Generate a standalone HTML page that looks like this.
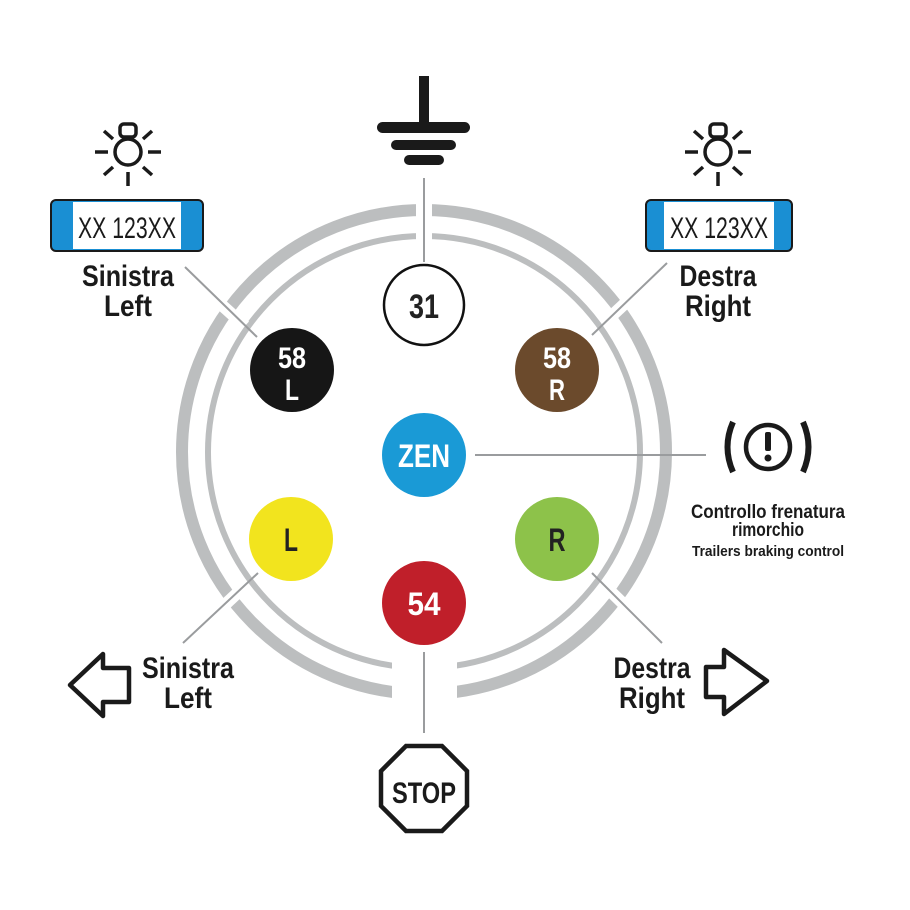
<!DOCTYPE html>
<html><head><meta charset="utf-8"><style>
html,body{margin:0;padding:0;background:#fff;}
svg{display:block;}
text{font-family:"Liberation Sans Narrow","Liberation Sans",sans-serif;font-weight:bold;}
</style></head><body>
<svg width="910" height="910" viewBox="0 0 910 910" xmlns="http://www.w3.org/2000/svg">
<circle cx="424" cy="452" r="242" fill="none" stroke="#bcbebf" stroke-width="12"/>
<circle cx="424" cy="452" r="216" fill="none" stroke="#bcbebf" stroke-width="6"/>
<g stroke="#fff" fill="none">
<line x1="424" y1="190" x2="424" y2="245" stroke-width="16"/>
<rect x="392" y="650" width="65" height="60" fill="#fff" stroke="none"/>
<line x1="205" y1="290" x2="245" y2="326" stroke-width="12"/>
<line x1="603" y1="324" x2="650" y2="280" stroke-width="12"/>
<line x1="246" y1="585" x2="200" y2="628" stroke-width="12"/>
<line x1="603" y1="584" x2="648" y2="628" stroke-width="12"/>
</g>
<g stroke="#9a9c9e" stroke-width="2">
<line x1="424" y1="178" x2="424" y2="262"/>
<line x1="185" y1="267" x2="257" y2="337"/>
<line x1="592" y1="335" x2="667" y2="263"/>
<line x1="475" y1="455" x2="706" y2="455"/>
<line x1="258" y1="573" x2="183" y2="643"/>
<line x1="592" y1="573" x2="662" y2="643"/>
<line x1="424" y1="652" x2="424" y2="733"/>
</g>
<circle cx="424" cy="305" r="40" fill="#fff" stroke="#111" stroke-width="2.5"/>
<text x="424" y="318" font-size="34" text-anchor="middle" fill="#222" textLength="30" lengthAdjust="spacingAndGlyphs">31</text>
<circle cx="292" cy="370" r="42" fill="#161616"/>
<text x="292" y="368" font-size="30" text-anchor="middle" fill="#fff" textLength="28" lengthAdjust="spacingAndGlyphs">58</text>
<text x="292" y="400" font-size="30" text-anchor="middle" fill="#fff" textLength="14" lengthAdjust="spacingAndGlyphs">L</text>
<circle cx="557" cy="370" r="42" fill="#6b4a2c"/>
<text x="557" y="368" font-size="30" text-anchor="middle" fill="#fff" textLength="28" lengthAdjust="spacingAndGlyphs">58</text>
<text x="557" y="400" font-size="30" text-anchor="middle" fill="#fff" textLength="16" lengthAdjust="spacingAndGlyphs">R</text>
<circle cx="424" cy="455" r="42" fill="#1a9ad6"/>
<text x="424" y="467" font-size="32" text-anchor="middle" fill="#fff" textLength="52" lengthAdjust="spacingAndGlyphs">ZEN</text>
<circle cx="291" cy="539" r="42" fill="#f2e41e"/>
<text x="291" y="551" font-size="32" text-anchor="middle" fill="#222" textLength="14" lengthAdjust="spacingAndGlyphs">L</text>
<circle cx="557" cy="539" r="42" fill="#8dc24a"/>
<text x="557" y="551" font-size="32" text-anchor="middle" fill="#222" textLength="17" lengthAdjust="spacingAndGlyphs">R</text>
<circle cx="424" cy="603" r="42" fill="#c01f2a"/>
<text x="424" y="615" font-size="32" text-anchor="middle" fill="#fff" textLength="33" lengthAdjust="spacingAndGlyphs">54</text>
<g fill="#1a1a1a">
<rect x="419" y="76" width="10" height="52"/>
<rect x="377" y="122" width="93" height="11" rx="5.5"/>
<rect x="391" y="140" width="65" height="10" rx="5"/>
<rect x="404" y="155" width="40" height="10" rx="5"/>
</g>
<g id="bulb" fill="none" stroke="#1a1a1a" stroke-width="3.5">
<circle cx="128" cy="152" r="13"/>
<rect x="120" y="124" width="16" height="13" rx="4"/>
<line x1="95" y1="152" x2="108" y2="152"/><line x1="148" y1="152" x2="161" y2="152"/>
<line x1="128" y1="172" x2="128" y2="186"/>
<line x1="104" y1="131" x2="113" y2="139"/><line x1="152" y1="131" x2="143" y2="139"/>
<line x1="104" y1="175" x2="113" y2="167"/><line x1="152" y1="175" x2="143" y2="167"/>
</g>
<use href="#bulb" x="590" y="0"/>
<rect x="51" y="200" width="152" height="51" rx="5" fill="#1a8fd3" stroke="#1a1a1a" stroke-width="2"/>
<rect x="73" y="202" width="108" height="47" fill="#fff"/>
<text x="127" y="238" font-size="30" text-anchor="middle" fill="#1a1a1a" style="font-weight:normal" textLength="98" lengthAdjust="spacingAndGlyphs">XX 123XX</text>
<rect x="646" y="200" width="146" height="51" rx="5" fill="#1a8fd3" stroke="#1a1a1a" stroke-width="2"/>
<rect x="664" y="202" width="110" height="47" fill="#fff"/>
<text x="719" y="238" font-size="30" text-anchor="middle" fill="#1a1a1a" style="font-weight:normal" textLength="98" lengthAdjust="spacingAndGlyphs">XX 123XX</text>
<g font-size="30" text-anchor="middle" fill="#1a1a1a" lengthAdjust="spacingAndGlyphs">
<text x="128" y="286" textLength="92" lengthAdjust="spacingAndGlyphs">Sinistra</text><text x="128" y="316" textLength="48" lengthAdjust="spacingAndGlyphs">Left</text>
<text x="718" y="286" textLength="77" lengthAdjust="spacingAndGlyphs">Destra</text><text x="718" y="316" textLength="66" lengthAdjust="spacingAndGlyphs">Right</text>
<text x="188" y="678" textLength="92" lengthAdjust="spacingAndGlyphs">Sinistra</text><text x="188" y="708" textLength="48" lengthAdjust="spacingAndGlyphs">Left</text>
<text x="652" y="678" textLength="77" lengthAdjust="spacingAndGlyphs">Destra</text><text x="652" y="708" textLength="66" lengthAdjust="spacingAndGlyphs">Right</text>
</g>
<g fill="none" stroke="#1a1a1a">
<circle cx="768" cy="447" r="22" stroke-width="4.5"/>
<path d="M733 422 Q722 447 733 472" stroke-width="6"/>
<path d="M803 422 Q814 447 803 472" stroke-width="6"/>
</g>
<rect x="765" y="432" width="6" height="19" rx="2" fill="#1a1a1a"/>
<circle cx="768" cy="458" r="3.5" fill="#1a1a1a"/>
<g text-anchor="middle" fill="#1a1a1a">
<text x="768" y="518" font-size="19" textLength="154" lengthAdjust="spacingAndGlyphs">Controllo frenatura</text>
<text x="768" y="536" font-size="19" textLength="72" lengthAdjust="spacingAndGlyphs">rimorchio</text>
<text x="768" y="556" font-size="15" textLength="152" lengthAdjust="spacingAndGlyphs">Trailers braking control</text>
</g>
<polygon points="70,685 103,654 103,668 129,668 129,702 103,702 103,716" fill="none" stroke="#1a1a1a" stroke-width="4.5" stroke-linejoin="round"/>
<polygon points="767,681 724,650 724,667 706,667 706,697 724,697 724,714" fill="none" stroke="#1a1a1a" stroke-width="4.5" stroke-linejoin="round"/>
<polygon points="406,746 442,746 467,771 467,806 442,831 406,831 381,806 381,771" fill="#fff" stroke="#1a1a1a" stroke-width="4.5"/>
<text x="424" y="803" font-size="30" text-anchor="middle" fill="#1a1a1a" textLength="64" lengthAdjust="spacingAndGlyphs">STOP</text>
</svg>
</body></html>
